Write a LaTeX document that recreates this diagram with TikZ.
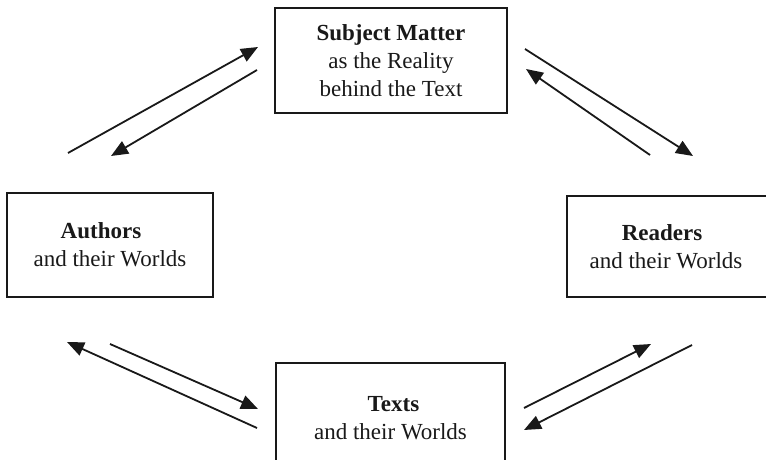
\documentclass[tikz,border=0pt]{standalone}
\usepackage{fontspec}
\setmainfont{Liberation Serif}
\usetikzlibrary{arrows.meta}
\begin{document}
\begin{tikzpicture}[x=1pt,y=-1pt,
  box/.style={draw=black!90,line width=1.8pt,rectangle,align=center,inner sep=0pt,
    font=\fontsize{23}{28}\selectfont,text=black!90},
  arr/.style={draw=black!90,line width=1.8pt,-{Triangle[length=17pt,width=14pt]}}]
\useasboundingbox (0,0) rectangle (766,460);
\clip (0,0) rectangle (766,460);
\fill[white] (0,0) rectangle (766,460);
% boxes
\node[box,minimum width=232pt,minimum height=105pt] (subj) at (391,60.5)
  {\rule{0pt}{10pt}\textbf{Subject Matter}\\as the Reality\\behind the Text};
\node[box,minimum width=206pt,minimum height=104pt] (auth) at (110,245)
  {\textbf{Authors}\hspace*{18pt}\\and their Worlds};
\node[box,minimum width=206pt,minimum height=101pt] (read) at (670,246.5)
  {\textbf{Readers}\hspace*{16pt}\\\hspace*{-8pt}and their Worlds};
\node[box,minimum width=229pt,minimum height=110pt] (text) at (390.5,418)
  {\hspace*{6pt}\textbf{Texts}\\and their Worlds};
% arrow end points
\coordinate (a1s) at (68,153);  \coordinate (a1e) at (258,47);
\coordinate (a2s) at (257,70);  \coordinate (a2e) at (111,156);
\coordinate (b1s) at (525,49);  \coordinate (b1e) at (693,156);
\coordinate (b2s) at (650,155); \coordinate (b2e) at (526,69);
\coordinate (c1s) at (257,428); \coordinate (c1e) at (67,342);
\coordinate (c2s) at (110,344); \coordinate (c2e) at (258,409);
\coordinate (d1s) at (524,408); \coordinate (d1e) at (651,344);
\coordinate (d2s) at (692,345); \coordinate (d2e) at (524,430);
% arrows
\draw[arr] (a1s) -- (a1e);
\draw[arr] (a2s) -- (a2e);
\draw[arr] (b1s) -- (b1e);
\draw[arr] (b2s) -- (b2e);
\draw[arr] (c1s) -- (c1e);
\draw[arr] (c2s) -- (c2e);
\draw[arr] (d1s) -- (d1e);
\draw[arr] (d2s) -- (d2e);
\end{tikzpicture}
\end{document}
